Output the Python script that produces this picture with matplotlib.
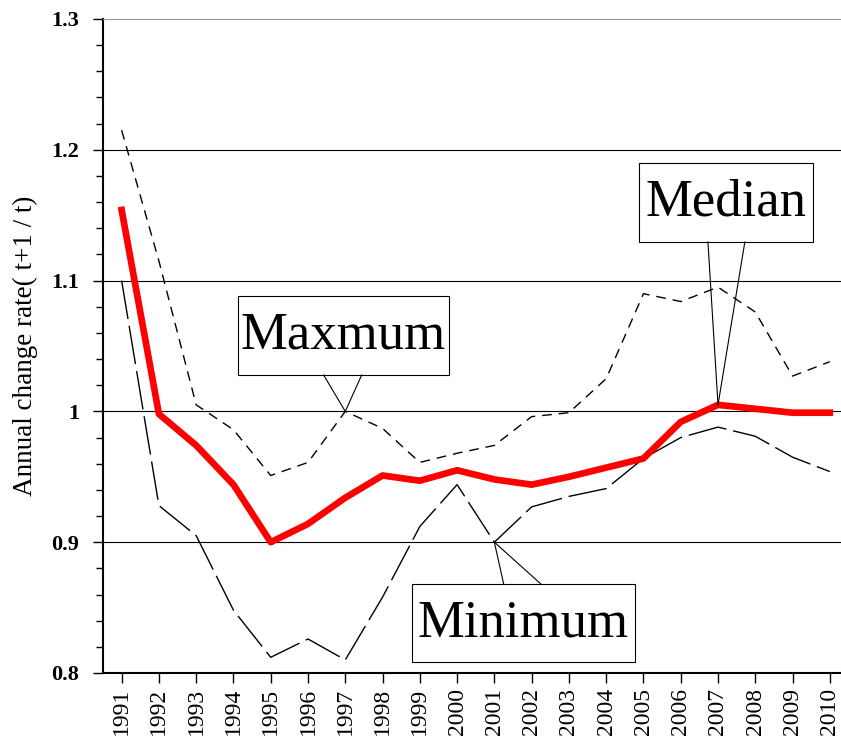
import matplotlib
matplotlib.use("Agg")
import matplotlib.pyplot as plt
from matplotlib.patches import Rectangle

plt.rcParams['font.family'] = ['Liberation Serif', 'DejaVu Serif']

# data
years = list(range(1991, 2011))
median = [1.154, 0.998, 0.974, 0.944, 0.900, 0.914, 0.934, 0.951, 0.947, 0.955,
          0.948, 0.944, 0.950, 0.957, 0.964, 0.992, 1.005, 1.002, 0.999, 0.999]
maximum = [1.215, 1.115, 1.005, 0.986, 0.951, 0.961, 1.000, 0.987, 0.961, 0.968,
           0.974, 0.996, 0.999, 1.025, 1.090, 1.084, 1.095, 1.076, 1.027, 1.038]
minimum = [1.100, 0.928, 0.905, 0.848, 0.812, 0.826, 0.810, 0.858, 0.912, 0.944,
           0.900, 0.927, 0.935, 0.941, 0.964, 0.980, 0.988, 0.981, 0.965, 0.954]

fig = plt.figure(figsize=(8.41, 7.46), dpi=100)
ax = fig.add_axes([103 / 841, 73 / 746, 738 / 841, 654 / 746])

for y in [0.9, 1.0, 1.1, 1.2]:
    ax.axhline(y, color='black', lw=0.8, zorder=1)

ax.plot(years, maximum, color='black', lw=1.0, dashes=(7, 5), zorder=2)
ax.plot(years, minimum, color='black', lw=1.0, dashes=(28, 5), zorder=2)
ax.plot(years, median, color='red', lw=4.8, zorder=3)

ax.set_xlim(1990.5, 2010.3)
ax.set_ylim(0.8, 1.3)
ax.set_xticks(years)
ax.set_xticklabels([str(y) for y in years], rotation=90, fontsize=17)
ax.set_yticks([0.8, 0.9, 1.0, 1.1, 1.2, 1.3])
ax.set_yticklabels(['0.8', '0.9', '1', '1.1', '1.2', '1.3'], fontsize=16, fontweight='bold')
ax.set_yticks([0.8 + 0.02 * i for i in range(26)], minor=True)
ax.tick_params(axis='both', direction='out', length=7, width=1)
ax.tick_params(axis='y', which='major', pad=10)
ax.tick_params(axis='y', which='minor', direction='out', length=5, width=1)
ax.set_ylabel('Annual change rate( t+1 / t)', fontsize=19.5, labelpad=10)

ax.spines['right'].set_visible(False)
ax.spines['top'].set_color('#999999')
ax.spines['left'].set_linewidth(1.5)
ax.spines['bottom'].set_linewidth(1.5)


def callout(text, box, base, target, top=False):
    x0, y0, x1, y1 = box
    ax.add_patch(Rectangle((x0, y0), x1 - x0, y1 - y0, facecolor='white',
                           edgecolor='black', lw=0.8, zorder=5))
    ax.text((x0 + x1) / 2, (y0 + y1) / 2, text, ha='center', va='center',
            fontsize=38, zorder=6)
    by = y1 if top else y0
    for bx in base:
        ax.plot([bx, target[0]], [by, target[1]], color='black', lw=0.8, zorder=5)


callout('Maxmum', (1994.11, 1.0278, 1999.78, 1.0882), (1996.42, 1997.44), (1997, 1.0))
callout('Median', (2004.88, 1.1295, 2009.55, 1.190), (2006.73, 2007.72), (2007, 1.005))
callout('Minimum', (1998.78, 0.8084, 2004.77, 0.868), (2001.25, 2002.25), (2001, 0.9), top=True)

fig.savefig('out.png', dpi=100)
